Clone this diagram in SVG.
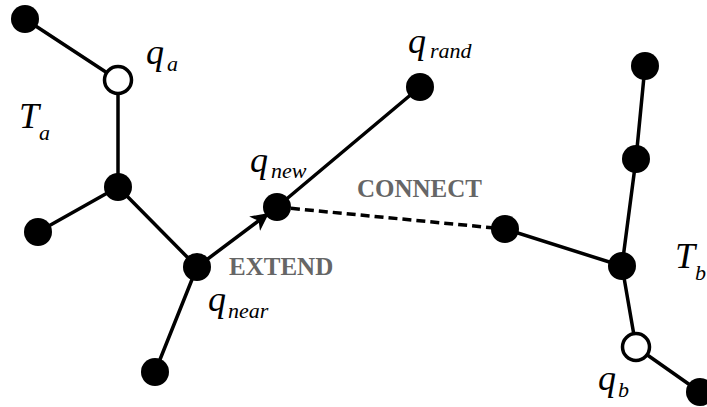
<svg xmlns="http://www.w3.org/2000/svg" width="707" height="407" viewBox="0 0 707 407">
<style>
.e{stroke:#000;stroke-width:3.5;fill:none;stroke-linecap:round}
.d{stroke:#000;stroke-width:3.5;fill:none;stroke-dasharray:9 5}
.f{fill:#000}
.o{fill:#fff;stroke:#000;stroke-width:3.5}
.q{font-family:'Liberation Serif','DejaVu Serif','Times New Roman',serif;font-style:italic;font-size:36px;fill:#000}
.s{font-family:'Liberation Serif','DejaVu Serif','Times New Roman',serif;font-style:italic;font-size:22px;fill:#000}
.lb{font-family:'Liberation Serif','DejaVu Serif','Times New Roman',serif;font-weight:bold;font-size:25px;fill:#666}
</style>
<defs>
<marker id="ah" markerUnits="userSpaceOnUse" markerWidth="20" markerHeight="18" refX="18" refY="9" orient="auto">
<path d="M0,0 L18,9 L0,18 L5,9 z" fill="#000"/>
</marker>
</defs>
<rect width="707" height="407" fill="#fff"/>
<g id="connectors">
<line class="e" x1="25" y1="19" x2="118" y2="80"/>
<line class="e" x1="118" y1="80" x2="118" y2="187"/>
<line class="e" x1="118" y1="187" x2="38" y2="232"/>
<line class="e" x1="118" y1="187" x2="197" y2="267"/>
<line class="e" x1="197" y1="267" x2="155" y2="372"/>
<line class="e" x1="197" y1="267" x2="269" y2="213" marker-end="url(#ah)"/>
<line class="e" x1="277" y1="207" x2="420" y2="87"/>
<line class="d" x1="277" y1="207" x2="505" y2="229"/>
<line class="e" x1="505" y1="229" x2="622" y2="266"/>
<line class="e" x1="622" y1="266" x2="636" y2="159"/>
<line class="e" x1="636" y1="159" x2="645" y2="66"/>
<line class="e" x1="622" y1="266" x2="636" y2="347"/>
<line class="e" x1="636" y1="347" x2="700" y2="392"/>
</g>
<g id="n1"><circle class="f" cx="25" cy="19" r="14"/></g>
<g id="qa"><circle class="o" cx="118" cy="80" r="13.5"/>
<text class="q" x="146" y="64">q</text><text class="s" x="167" y="71">a</text></g>
<g id="n3"><circle class="f" cx="118" cy="187" r="14"/></g>
<g id="n4"><circle class="f" cx="38" cy="232" r="14"/></g>
<g id="qnear"><circle class="f" cx="197" cy="267" r="14"/>
<text class="q" x="208" y="311">q</text><text class="s" x="228" y="318">near</text></g>
<g id="n6"><circle class="f" cx="155" cy="372" r="14"/></g>
<g id="qnew"><circle class="f" cx="277" cy="207" r="14"/>
<text class="q" x="250" y="172">q</text><text class="s" x="271" y="178">new</text></g>
<g id="qrand"><circle class="f" cx="420" cy="87" r="14"/>
<text class="q" x="408" y="53">q</text><text class="s" x="430" y="58">rand</text></g>
<g id="c"><circle class="f" cx="505" cy="229" r="14"/></g>
<g id="tbc"><circle class="f" cx="622" cy="266" r="14"/></g>
<g id="u"><circle class="f" cx="636" cy="159" r="14"/></g>
<g id="top"><circle class="f" cx="645" cy="66" r="14"/></g>
<g id="qb"><circle class="o" cx="636" cy="347" r="13.5"/>
<text class="q" x="598" y="390">q</text><text class="s" x="618" y="397">b</text></g>
<g id="br"><circle class="f" cx="700" cy="392" r="14"/></g>
<g id="Ta"><text class="q" x="19" y="128">T</text><text class="s" x="39" y="140">a</text></g>
<g id="Tb"><text class="q" x="675" y="268">T</text><text class="s" x="695" y="280">b</text></g>
<g id="labels">
<text class="lb" x="229" y="275">EXTEND</text>
<text class="lb" x="357" y="197">CONNECT</text>
</g>
</svg>
